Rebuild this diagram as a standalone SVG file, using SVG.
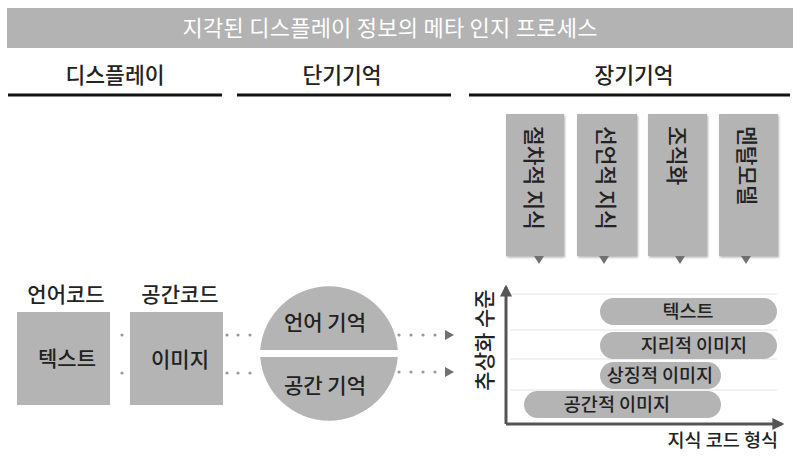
<svg xmlns="http://www.w3.org/2000/svg" width="800" height="457" viewBox="0 0 800 457">
<style>
text{font-family:"Noto Sans CJK KR","Noto Sans",sans-serif;fill:#222;font-weight:500;}
.title{fill:#fff;font-size:22px;font-weight:400;}
.hdr{font-size:21.5px;text-anchor:middle;}
.lbl{font-size:21px;text-anchor:middle;}
.vt{font-size:21.5px;dominant-baseline:central;}
.pill{font-size:18.5px;text-anchor:middle;}
.box{fill:#b4b4b4;}
.rule{stroke:#111;stroke-width:3;}
.grid{stroke:#e2e2e2;stroke-width:1;}
.axis{stroke:#555;stroke-width:3;fill:none;}
.dot{fill:#9a9a9a;}
.tri{fill:#707070;}
</style>
<defs>
<filter id="sh" x="-10%" y="-10%" width="130%" height="130%">
<feDropShadow dx="1" dy="1.5" stdDeviation="1.2" flood-color="#000" flood-opacity="0.3"/>
</filter>
<marker id="ah" viewBox="0 0 10 10" refX="8" refY="5" markerWidth="4" markerHeight="4" orient="auto" markerUnits="strokeWidth">
<path d="M0,0 L10,5 L0,10 z" fill="#555"/>
</marker>
</defs>

<g id="title">
<rect x="7" y="8" width="786" height="40" fill="#b3b3b3"/>
<text class="title" x="390" y="36" text-anchor="middle" textLength="415">지각된 디스플레이 정보의 메타 인지 프로세스</text>
</g>

<g id="headers">
<text class="hdr" x="115" y="83">디스플레이</text>
<text class="hdr" x="342" y="83">단기기억</text>
<text class="hdr" x="634" y="83">장기기억</text>
<line class="rule" x1="8" y1="95" x2="222" y2="95"/>
<line class="rule" x1="237" y1="95" x2="451" y2="95"/>
<line class="rule" x1="469" y1="95" x2="790" y2="95"/>
</g>

<g id="ltm-procedural">
<rect class="box" x="506" y="114" width="58" height="142" filter="url(#sh)"/>
<text class="vt" transform="translate(535,126) rotate(90)">절차적 지식</text>
<path class="tri" d="M534,256 L544,256 L539,264 z"/>
</g>
<g id="ltm-declarative">
<rect class="box" x="577" y="114" width="60" height="142" filter="url(#sh)"/>
<text class="vt" transform="translate(607,126) rotate(90)">선언적 지식</text>
<path class="tri" d="M599,256 L609,256 L604,264 z"/>
</g>
<g id="ltm-organization">
<rect class="box" x="648" y="114" width="59" height="142" filter="url(#sh)"/>
<text class="vt" transform="translate(678,126) rotate(90)">조직화</text>
<path class="tri" d="M675,256 L685,256 L680,264 z"/>
</g>
<g id="ltm-mental">
<rect class="box" x="719" y="114" width="59" height="142" filter="url(#sh)"/>
<text class="vt" transform="translate(748,126) rotate(90)">멘탈모델</text>
<path class="tri" d="M741,256 L751,256 L746,264 z"/>
</g>

<g id="verbal-code">
<text class="lbl" x="66" y="302">언어코드</text>
<rect class="box" x="17" y="312" width="93" height="93"/>
<text class="lbl" x="67" y="366" font-size="22">텍스트</text>
</g>
<g id="spatial-code">
<text class="lbl" x="180" y="302">공간코드</text>
<rect class="box" x="130" y="312" width="93" height="93"/>
<text class="lbl" x="180" y="367" font-size="22">이미지</text>
</g>

<g id="stm">
<path class="box" d="M260.2,350 A69,69 0 0 1 397.8,350 Z"/>
<path class="box" d="M260.2,357 A69,69 0 0 0 397.8,357 Z"/>
<text class="lbl" x="325" y="330">언어 기억</text>
<text class="lbl" x="325" y="393">공간 기억</text>
</g>

<g id="connectors">
<circle class="dot" cx="122" cy="335" r="1.6"/>
<circle class="dot" cx="122" cy="373" r="1.6"/>
<circle class="dot" cx="227" cy="335" r="1.6"/>
<circle class="dot" cx="238" cy="335" r="1.6"/>
<circle class="dot" cx="250" cy="335" r="1.6"/>
<circle class="dot" cx="227" cy="373" r="1.6"/>
<circle class="dot" cx="238" cy="373" r="1.6"/>
<circle class="dot" cx="250" cy="373" r="1.6"/>
<circle class="dot" cx="399" cy="335" r="1.6"/>
<circle class="dot" cx="411" cy="335" r="1.6"/>
<circle class="dot" cx="423" cy="335" r="1.6"/>
<circle class="dot" cx="435" cy="335" r="1.6"/>
<path class="tri" d="M445,330 L454,335 L445,340 z" fill="#888"/>
<circle class="dot" cx="399" cy="372" r="1.6"/>
<circle class="dot" cx="411" cy="372" r="1.6"/>
<circle class="dot" cx="423" cy="372" r="1.6"/>
<circle class="dot" cx="435" cy="372" r="1.6"/>
<path class="tri" d="M445,367 L454,372 L445,377 z" fill="#888"/>
</g>

<g id="chart">
<line class="grid" x1="510" y1="294" x2="777" y2="294"/>
<line class="grid" x1="510" y1="330" x2="777" y2="330"/>
<line class="grid" x1="510" y1="359" x2="777" y2="359"/>
<line class="grid" x1="510" y1="390" x2="777" y2="390"/>
<path class="axis" d="M506,424 L506,287" marker-end="url(#ah)"/>
<path class="axis" d="M506,424 L782,424" marker-end="url(#ah)"/>
<text class="lbl" font-size="18" transform="translate(483,340) rotate(-90)" dominant-baseline="central">추상화 수준</text>
<text x="778" y="447" font-size="18.5" text-anchor="end">지식 코드 형식</text>
</g>
<g id="pill-text">
<rect class="box" x="600" y="298" width="177" height="27" rx="13.5"/>
<text class="pill" x="688" y="318">텍스트</text>
</g>
<g id="pill-geo">
<rect class="box" x="600" y="332" width="177" height="27" rx="13.5"/>
<text class="pill" x="694" y="352">지리적 이미지</text>
</g>
<g id="pill-symbol">
<rect class="box" x="600" y="362" width="121" height="27" rx="13.5"/>
<text class="pill" x="660" y="382">상징적 이미지</text>
</g>
<g id="pill-spatial">
<rect class="box" x="524" y="391" width="197" height="27" rx="13.5"/>
<text class="pill" x="617" y="411">공간적 이미지</text>
</g>
</svg>
